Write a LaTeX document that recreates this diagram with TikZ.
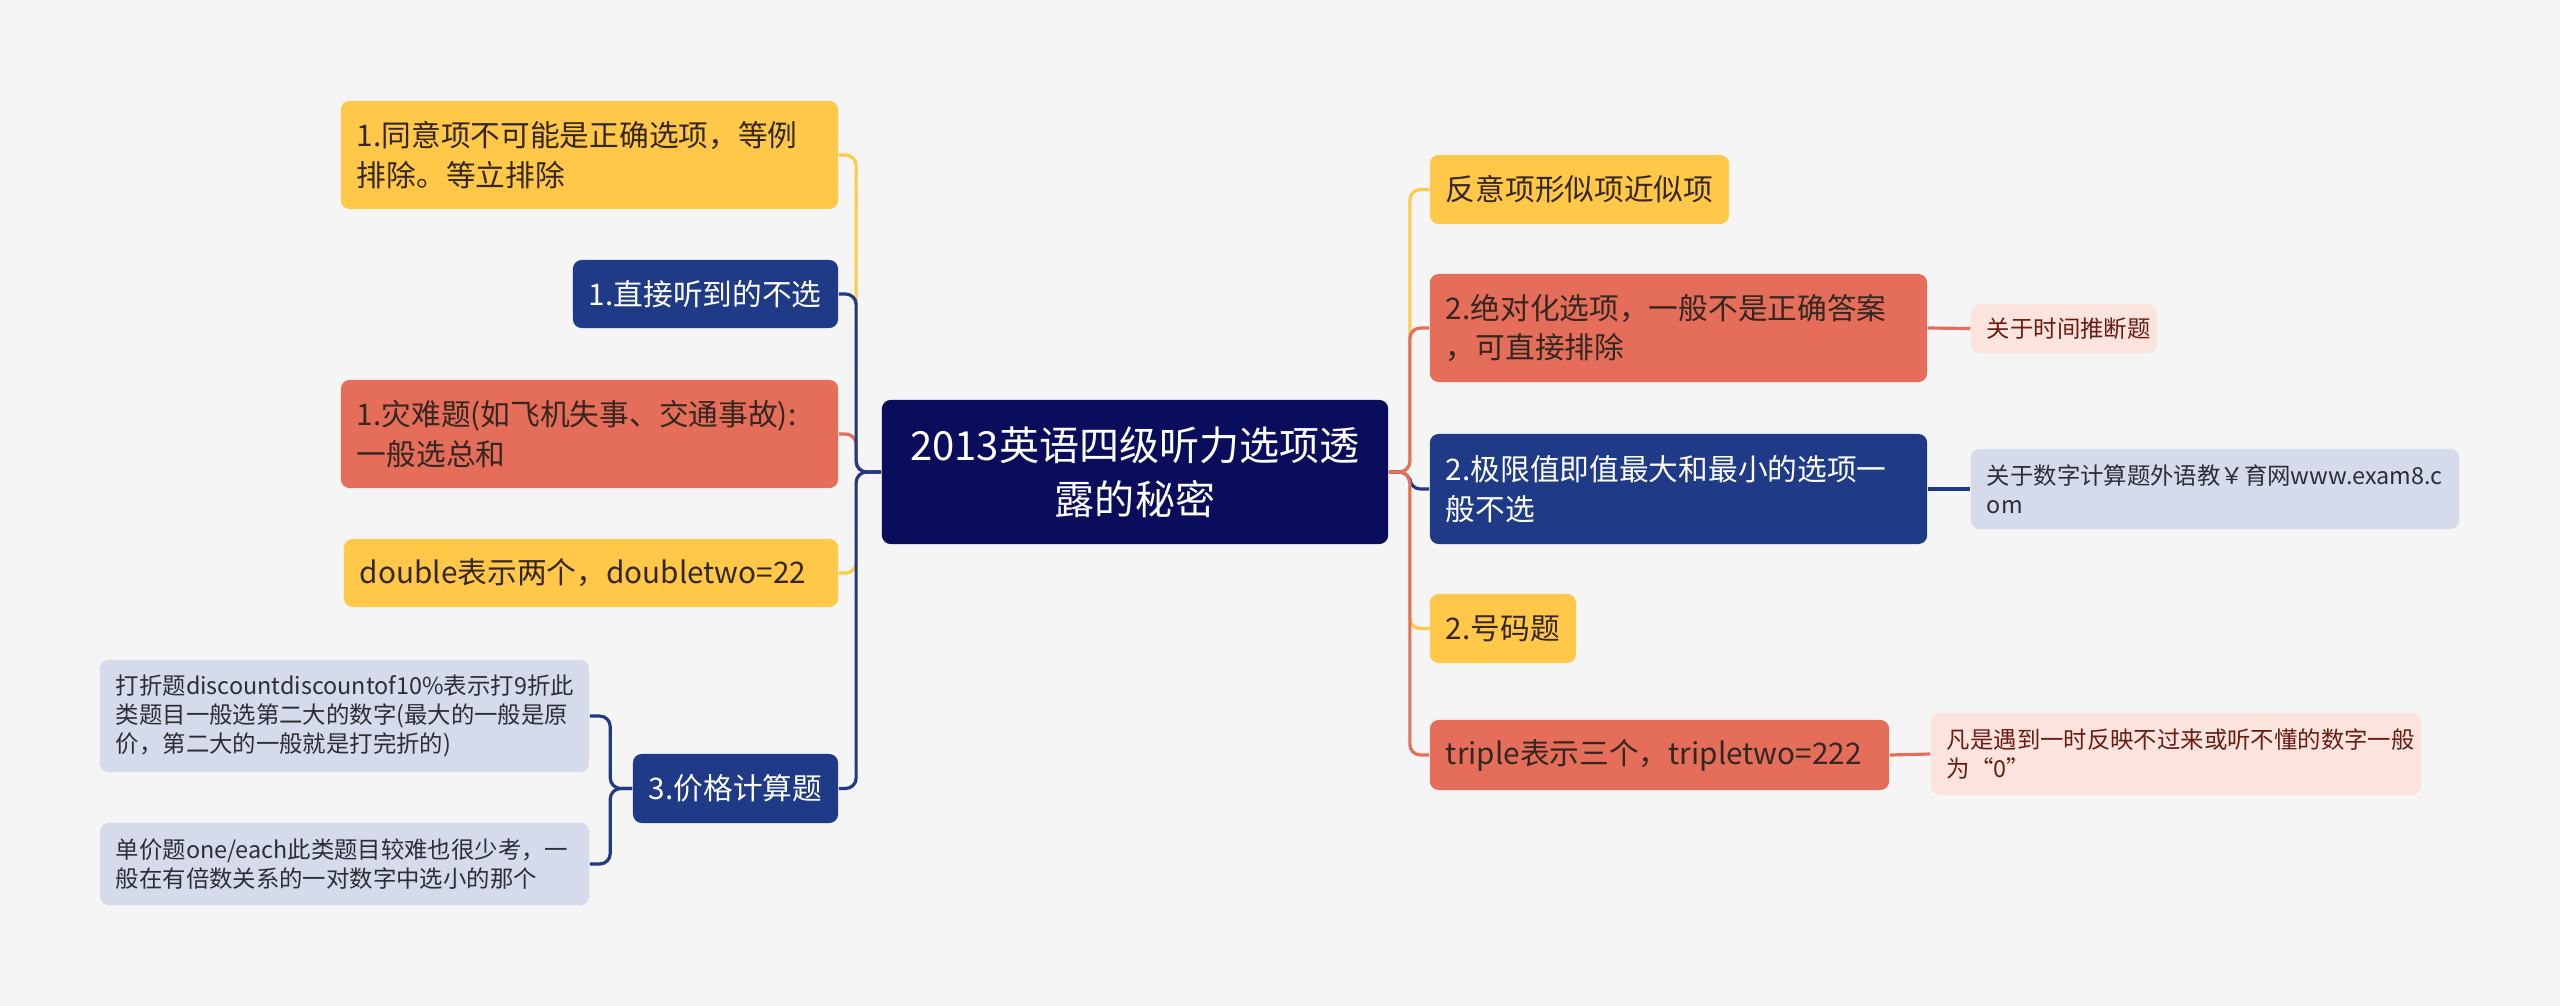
\documentclass[tikz,border=0pt]{standalone}
\usepackage{fontspec}
\setmainfont{Noto Sans CJK SC}
\usepackage{xcolor}
\usepackage{tikz}
\usetikzlibrary{positioning}
\definecolor{pagegray}{RGB}{245,245,245}
\definecolor{rootnavy}{RGB}{10,12,92}
\definecolor{mapblue}{RGB}{31,58,135}
\definecolor{mapred}{RGB}{228,110,90}
\definecolor{mapyellow}{RGB}{255,200,72}
\definecolor{noteblue}{RGB}{213,219,234}
\definecolor{notepink}{RGB}{251,228,222}
\definecolor{inkdark}{RGB}{52,38,32}
\definecolor{inkred}{RGB}{105,28,18}
\definecolor{inkgray}{RGB}{45,45,55}

\tikzset{
  box/.style={rounded corners=2.5pt, inner xsep=0.16cm, inner ysep=0pt, align=left},
  topic/.style={box, font=\fontsize{8.45}{11.2}\selectfont},
  note/.style={box, font=\fontsize{6.65}{8.3}\selectfont},
  link/.style={line width=0.9pt, rounded corners=3pt},
}

\begin{document}
\begin{tikzpicture}[x=0.01cm, y=-0.01cm]
\fill[pagegray] (0,0) rectangle (2560,1006);
\useasboundingbox (0,0) rectangle (2560,1006);

% centre
\node[box, fill=rootnavy, text=white, align=center, font=\fontsize{11.4}{15.3}\selectfont,
  text width=4.74cm, minimum height=1.44cm] (root) at (1135,472)
  {2013英语四级听力选项透\\露的秘密};

% left branches
\node[topic, fill=mapyellow, text=inkdark, text width=4.65cm, minimum height=1.08cm] (same) at (589.5,155)
  {1.同意项不可能是正确选项，等例\\排除。等立排除};
\node[topic, fill=mapblue, text=white, text width=2.33cm, minimum height=0.68cm] (heard) at (705.5,294)
  {1.直接听到的不选};
\node[topic, fill=mapred, text=inkdark, text width=4.65cm, minimum height=1.08cm] (disaster) at (589.5,434)
  {1.灾难题(如飞机失事、交通事故):\\一般选总和};
\node[topic, fill=mapyellow, text=inkdark, text width=4.62cm, minimum height=0.68cm] (double) at (591,573)
  {double表示两个，doubletwo=22};
\node[topic, fill=mapblue, text=white, text width=1.73cm, minimum height=0.69cm] (price) at (735.5,788.5)
  {3.价格计算题};
\node[note, fill=noteblue, text=inkgray, text width=4.57cm, minimum height=1.12cm] (discount) at (344.5,716)
  {打折题discountdiscountof10\%表示打9折此\\类题目一般选第二大的数字(最大的一般是原\\价，第二大的一般就是打完折的)};
\node[note, fill=noteblue, text=inkgray, text width=4.57cm, minimum height=0.82cm] (unit) at (344.5,864)
  {单价题one/each此类题目较难也很少考，一\\般在有倍数关系的一对数字中选小的那个};

% right branches
\node[topic, fill=mapyellow, text=inkdark, text width=2.67cm, minimum height=0.69cm] (similar) at (1579.5,189.5)
  {反意项形似项近似项};
\node[topic, fill=mapred, text=inkdark, text width=4.65cm, minimum height=1.08cm] (absolute) at (1678.5,328)
  {2.绝对化选项，一般不是正确答案\\，可直接排除};
\node[note, fill=notepink, text=inkred, text width=1.54cm, minimum height=0.49cm] (timeq) at (2064,328.5)
  {关于时间推断题};
\node[topic, fill=mapblue, text=white, text width=4.65cm, minimum height=1.10cm] (extreme) at (1678.5,489)
  {2.极限值即值最大和最小的选项一\\般不选};
\node[note, fill=noteblue, text=inkgray, text width=4.56cm, minimum height=0.80cm] (numq) at (2215,489)
  {关于数字计算题外语教￥育网www.exam8.c\\om};
\node[topic, fill=mapyellow, text=inkdark, text width=1.14cm, minimum height=0.69cm] (number) at (1503,628.5)
  {2.号码题};
\node[topic, fill=mapred, text=inkdark, text width=4.27cm, minimum height=0.70cm] (triple) at (1659.5,755)
  {triple表示三个，tripletwo=222};
\node[note, fill=notepink, text=inkred, text width=4.58cm, minimum height=0.82cm] (zero) at (2176,754)
  {凡是遇到一时反映不过来或听不懂的数字一般\\为“0”};

% connectors, left
\draw[link, mapyellow] (root.west) -- ++(-25,0) |- (same.east);
\draw[link, mapyellow] (root.west) -- ++(-25,0) |- (double.east);
\draw[link, mapred] (root.west) -- ++(-25,0) |- (disaster.east);
\draw[link, mapblue] (root.west) -- ++(-25,0) |- (heard.east);
\draw[link, mapblue] (root.west) -- ++(-25,0) |- (price.east);
\draw[link, mapblue] (price.west) -- ++(-22,0) |- (discount.east);
\draw[link, mapblue] (price.west) -- ++(-22,0) |- (unit.east);

% connectors, right
\draw[link, mapyellow] (root.east) -- ++(21,0) |- (similar.west);
\draw[link, mapyellow] (root.east) -- ++(21,0) |- (number.west);
\draw[link, mapblue] (root.east) -- ++(21,0) |- (extreme.west);
\draw[link, mapred] (root.east) -- ++(21,0) |- (absolute.west);
\draw[link, mapred] (root.east) -- ++(21,0) |- (triple.west);
\draw[link, mapred] (absolute.east) -- (timeq.west);
\draw[link, mapblue] (extreme.east) -- (numq.west);
\draw[link, mapred] (triple.east) -- (zero.west);
\end{tikzpicture}
\end{document}
